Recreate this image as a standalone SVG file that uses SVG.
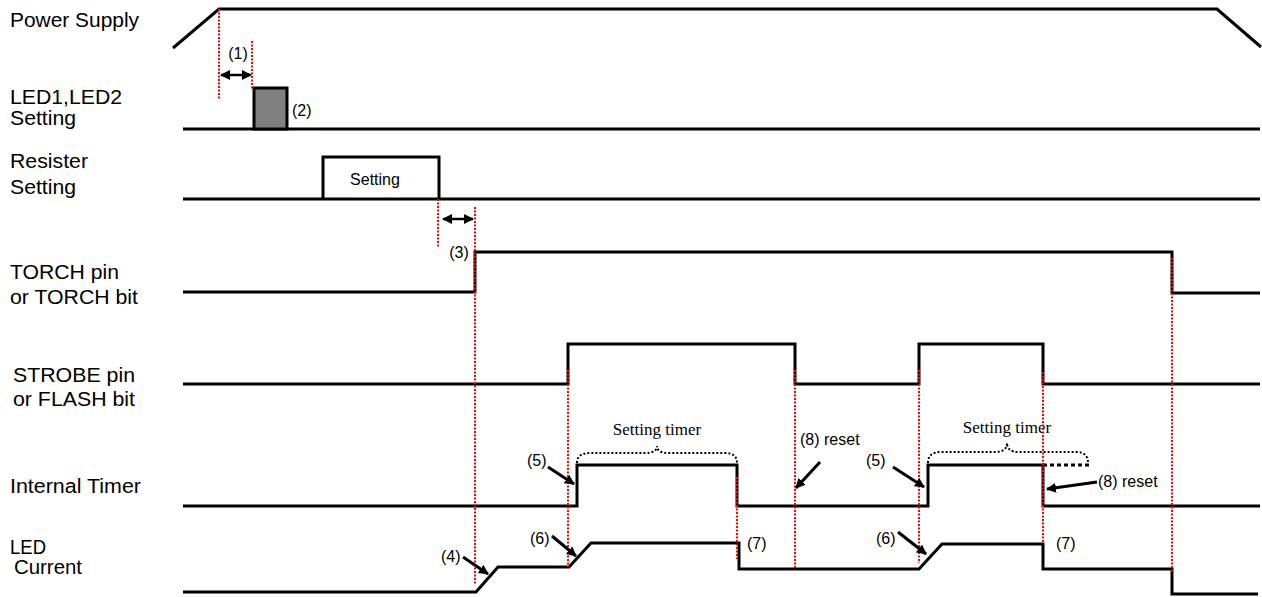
<svg xmlns="http://www.w3.org/2000/svg" width="1262" height="597" viewBox="0 0 1262 597">
<defs>
<marker id="ah" viewBox="0 0 10 10" refX="9" refY="5" markerWidth="10" markerHeight="10" markerUnits="userSpaceOnUse" orient="auto-start-reverse">
<path d="M0,0 L10,5 L0,10 z" fill="#000"/>
</marker>
<style>
.sig{fill:none;stroke:#000;stroke-width:3;stroke-linejoin:miter}
.red{fill:none;stroke:#ff0000;stroke-width:2;stroke-dasharray:2,1.5}
.lbl{font-family:"Liberation Sans",Arial,sans-serif;font-size:19.5px;fill:#000}
.ann{font-family:"Liberation Sans",Arial,sans-serif;font-size:16px;fill:#000}
.ser{font-family:"Liberation Serif","Times New Roman",serif;font-size:17px;fill:#000}
.arr{fill:none;stroke:#000;stroke-width:3;marker-end:url(#ah)}
.darr{fill:none;stroke:#000;stroke-width:2.5;marker-end:url(#ah);marker-start:url(#ah)}
.brace{fill:none;stroke:#000;stroke-width:2;stroke-dasharray:2,2}
</style>
</defs>
<rect width="1262" height="597" fill="#fff"/>

<g id="power">
<text class="lbl" x="10" y="27" textLength="129" lengthAdjust="spacingAndGlyphs">Power Supply</text>
<polyline class="sig" points="173,48 219,9 1217,9 1261,47"/>
</g>

<g id="led-setting">
<text class="lbl" x="10" y="104" textLength="112" lengthAdjust="spacingAndGlyphs">LED1,LED2</text>
<text class="lbl" x="10" y="125" textLength="66" lengthAdjust="spacingAndGlyphs">Setting</text>
<line class="sig" x1="183" y1="129" x2="1260" y2="129"/>
<rect x="254" y="88" width="33" height="41" fill="#808080" stroke="#000" stroke-width="3"/>
<text class="ann" x="292" y="116">(2)</text>
</g>

<g id="resister">
<text class="lbl" x="10" y="168" textLength="78" lengthAdjust="spacingAndGlyphs">Resister</text>
<text class="lbl" x="10" y="194" textLength="66" lengthAdjust="spacingAndGlyphs">Setting</text>
<line class="sig" x1="183" y1="199" x2="1260" y2="199"/>
<polyline class="sig" points="323,199 323,157 439,157 439,199"/>
<text class="ann" x="375" y="185" text-anchor="middle" font-size="17">Setting</text>
</g>

<g id="torch">
<text class="lbl" x="10" y="279" textLength="109" lengthAdjust="spacingAndGlyphs">TORCH pin</text>
<text class="lbl" x="10" y="304" textLength="128" lengthAdjust="spacingAndGlyphs">or TORCH bit</text>
<polyline class="sig" points="183,292 475,292 475,252 1172,252 1172,293 1260,293"/>
</g>

<g id="strobe">
<text class="lbl" x="13" y="382" textLength="122" lengthAdjust="spacingAndGlyphs">STROBE pin</text>
<text class="lbl" x="13" y="406" textLength="122" lengthAdjust="spacingAndGlyphs">or FLASH bit</text>
<polyline class="sig" points="183,384 568,384 568,344 795,344 795,384 919,384 919,344 1043,344 1043,384 1260,384"/>
</g>

<g id="timer">
<text class="lbl" x="10" y="493" textLength="131" lengthAdjust="spacingAndGlyphs">Internal Timer</text>
<polyline class="sig" points="183,506 577,506 577,465 737,465 737,506 928,506 928,465 1043,465 1043,506 1260,506"/>
<line x1="1043" y1="465" x2="1090" y2="465" stroke="#000" stroke-width="3" stroke-dasharray="4,3"/>
<path class="brace" d="M577,463 Q577,453 590,453 L645,453 Q657,453 657,446 Q657,453 669,453 L725,453 Q737,453 737,463"/>
<path class="brace" d="M928,463 Q928,452 941,452 L995,452 Q1007,452 1007,443 Q1007,452 1019,452 L1076,452 Q1088,452 1088,463"/>
<text class="ser" x="657" y="435" text-anchor="middle">Setting timer</text>
<text class="ser" x="1007" y="433" text-anchor="middle">Setting timer</text>
</g>

<g id="led-current">
<text class="lbl" x="10" y="554" textLength="36" lengthAdjust="spacingAndGlyphs">LED</text>
<text class="lbl" x="14" y="574" textLength="68" lengthAdjust="spacingAndGlyphs">Current</text>
<polyline class="sig" points="183,592 476,592 498,567 569,567 591,543 739,543 739,569 919,569 942,544 1043,544 1043,569 1172,569 1172,594 1258,594"/>
</g>

<g id="markers">
<line class="red" x1="219" y1="9" x2="219" y2="99"/>
<line class="red" x1="252" y1="41" x2="252" y2="89"/>
<line class="red" x1="438" y1="199" x2="438" y2="248"/>
<line class="red" x1="475" y1="207" x2="475" y2="585"/>
<line class="red" x1="568" y1="370" x2="568" y2="567"/>
<line class="red" x1="737" y1="477" x2="737" y2="559"/>
<line class="red" x1="795" y1="370" x2="795" y2="569"/>
<line class="red" x1="919" y1="370" x2="919" y2="563"/>
<line class="red" x1="1043" y1="372" x2="1043" y2="543"/>
<line class="red" x1="1172" y1="258" x2="1172" y2="572"/>
</g>

<g id="connectors">
<line class="darr" x1="221" y1="75" x2="251" y2="75"/>
<line class="darr" x1="443" y1="219" x2="473" y2="219"/>
<line class="arr" x1="463" y1="557" x2="488" y2="574"/>
<line class="arr" x1="548" y1="467" x2="574" y2="484"/>
<line class="arr" x1="552" y1="536" x2="576" y2="556"/>
<line class="arr" x1="820" y1="462" x2="796" y2="488"/>
<line class="arr" x1="893" y1="467" x2="924" y2="487"/>
<line class="arr" x1="898" y1="532" x2="926" y2="554"/>
<line class="arr" x1="1097" y1="482" x2="1047" y2="489"/>
</g>

<g id="annotations">
<text class="ann" x="238" y="59" text-anchor="middle">(1)</text>
<text class="ann" x="459" y="258" text-anchor="middle">(3)</text>
<text class="ann" x="441" y="562">(4)</text>
<text class="ann" x="527" y="466">(5)</text>
<text class="ann" x="530" y="544">(6)</text>
<text class="ann" x="747" y="549">(7)</text>
<text class="ann" x="800" y="445">(8) reset</text>
<text class="ann" x="866" y="466">(5)</text>
<text class="ann" x="876" y="544">(6)</text>
<text class="ann" x="1056" y="549">(7)</text>
<text class="ann" x="1098" y="487">(8) reset</text>
</g>
</svg>
